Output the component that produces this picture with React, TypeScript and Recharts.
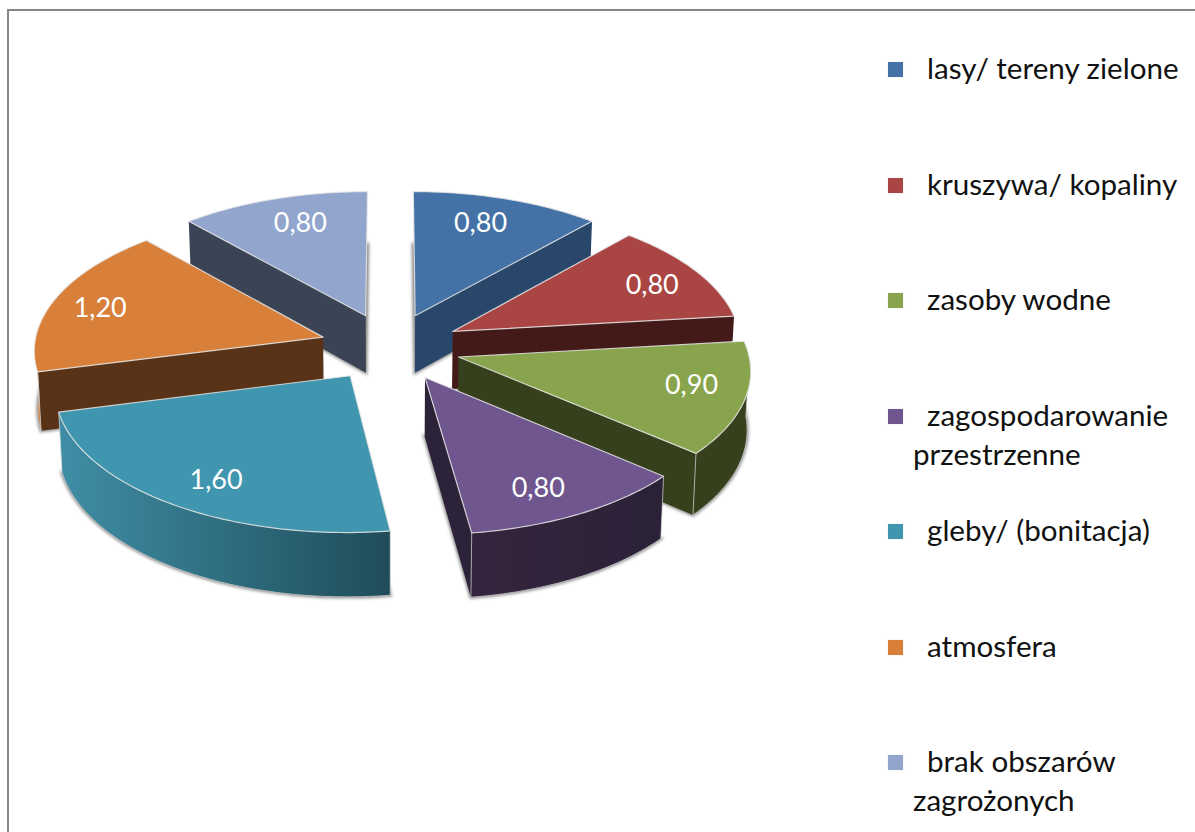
import { Legend, Pie, PieChart } from "recharts";

const categories = [
  "lasy/ tereny zielone",
  "kruszywa/ kopaliny",
  "zasoby wodne",
  "zagospodarowanie przestrzenne",
  "gleby/ (bonitacja)",
  "atmosfera",
  "brak obszarów zagrożonych",
];
const values = [0.8, 0.8, 0.9, 0.8, 1.6, 1.2, 0.8];

const topColors = ["#4472a6", "#a94542", "#88a44d", "#6f568f", "#3f96ae", "#d8803a", "#91a5cd"];
const sideColors = ["#28476a", "#431a18", "#36401c", "#2c2239", "#2a5f6e", "#583317", "#3b4454"];
const arcLeftColors = ["#28476a", "#431a18", "#36401c", "#35243d", "#3f8ea6", "#d07c38", "#3b4454"];
const arcRightColors = ["#28476a", "#431a18", "#36401c", "#2b2238", "#1f4c59", "#c97433", "#3b4454"];

// painter's order: back slices first, front slices last
const drawOrder = [0, 6, 1, 5, 2, 4, 3];

// small turn and radius of each value label from the middle of its slice
const labelTurns = [1.8, -0.7, 2.8, -1.7, 1.4, 0.9, -1.8];
const labelRadii = [1.03, 1.053, 1.052, 1.042, 1.042, 1.07, 1.03];

const CX = 390.4;
const CY = 347;
const RADIUS = 289;
const TILT = 0.4813;
const PERSPECTIVE = 0.0814;
const DEPTH = 58;
const EXPLODE = 0.245;
const RAD = Math.PI / 180;

const tableData = categories.map((name, i) => ({ name, value: values[i], order: i }));

function project(u: number, w: number, bottom = false): [number, number] {
  const s = 1 / (1 - PERSPECTIVE * w);
  let x = u * RADIUS * s;
  let y = w * RADIUS * TILT * s;
  if (bottom) {
    x *= 0.99;
    y += DEPTH * s;
  }
  return [CX + x, CY + y];
}

const toPath = (pts: [number, number][], close = true) =>
  pts.map((p, i) => `${i ? "L" : "M"}${p[0].toFixed(2)} ${p[1].toFixed(2)}`).join("") + (close ? "Z" : "");

function Slice(props: any) {
  const { startAngle, endAngle, midAngle } = props;
  const order = props.order ?? props.payload?.order;
  const ex = EXPLODE * Math.cos(midAngle * RAD);
  const ew = -EXPLODE * Math.sin(midAngle * RAD);

  const at = (deg: number, bottom = false) =>
    project(ex + Math.cos(deg * RAD), ew - Math.sin(deg * RAD), bottom);
  const apexTop = project(ex, ew);
  const apexBottom = project(ex, ew, true);

  const arcAngles: number[] = [];
  const steps = Math.ceil(Math.abs(startAngle - endAngle));
  for (let i = 0; i <= steps; i++) arcAngles.push(startAngle + ((endAngle - startAngle) * i) / steps);

  // arc wall: only the part turned to the viewer
  const frontAngles = arcAngles.filter((a) => Math.sin(a * RAD) <= 0);
  const topArc = arcAngles.map((a) => at(a));
  const bottomArc = arcAngles.map((a) => at(a, true));
  const frontTop = frontAngles.map((a) => at(a));
  const frontBottom = frontAngles.map((a) => at(a, true));

  const showStartWall = Math.cos(startAngle * RAD) < 0;
  const showEndWall = Math.cos(endAngle * RAD) > 0;
  const gradientId = `arc-side-${order}`;

  const labelAngle = (midAngle + labelTurns[order]) * RAD;
  const [lx, ly] = project(labelRadii[order] * Math.cos(labelAngle), -labelRadii[order] * Math.sin(labelAngle));

  return (
    <g>
      <defs>
        <linearGradient id={gradientId} x1="0" y1="0" x2="1" y2="0">
          <stop offset="0%" stopColor={arcLeftColors[order]} />
          <stop offset="100%" stopColor={arcRightColors[order]} />
        </linearGradient>
      </defs>
      <path
        d={toPath([apexBottom, ...bottomArc])}
        fill="#7a7a7a"
        stroke="#7a7a7a"
        strokeWidth={3.5}
        strokeOpacity={0.65}
        style={{ filter: "blur(1.4px)" }}
      />
      {showStartWall && (
        <path d={toPath([apexTop, at(startAngle), at(startAngle, true), apexBottom])} fill={sideColors[order]} />
      )}
      {showEndWall && (
        <path d={toPath([apexTop, at(endAngle), at(endAngle, true), apexBottom])} fill={sideColors[order]} />
      )}
      {frontAngles.length > 1 && (
        <g>
          <path d={toPath([...frontTop, ...[...frontBottom].reverse()])} fill={`url(#${gradientId})`} />
          <path d={toPath(frontBottom, false)} fill="none" stroke="#c8c8c8" strokeWidth={1} strokeOpacity={0.8} />
          <path
            d={toPath([frontTop[0], frontBottom[0]], false)}
            stroke="#d8d8d8"
            strokeWidth={1}
            strokeOpacity={0.7}
          />
          <path
            d={toPath([frontTop[frontTop.length - 1], frontBottom[frontBottom.length - 1]], false)}
            stroke="#d8d8d8"
            strokeWidth={1}
            strokeOpacity={0.7}
          />
        </g>
      )}
      <path
        d={toPath([apexTop, ...topArc])}
        fill={topColors[order]}
        stroke="#e6e6e6"
        strokeWidth={1.2}
        strokeOpacity={0.85}
        strokeLinejoin="round"
      />
      <text
        x={lx}
        y={ly}
        fill="#fff"
        fontFamily="Lato, sans-serif"
        fontSize={27}
        textAnchor="middle"
        dominantBaseline="central"
      >
        {values[order].toFixed(2).replace(".", ",")}
      </text>
    </g>
  );
}

function LegendList() {
  return (
    <div style={{ position: "relative", width: 1195, height: 832 }}>
      {categories.map((name, i) => (
        <div key={name}>
          <div
            style={{
              position: "absolute",
              left: 888,
              top: 62 + 115.5 * i,
              width: 15,
              height: 15,
              background: topColors[i],
              boxShadow: "0 0 2px #e8e8e8",
            }}
          />
          <div
            style={{
              position: "absolute",
              left: 913,
              top: 48 + 115.5 * i,
              width: 282,
              textIndent: 14,
              fontFamily: "Lato, sans-serif",
              fontSize: 29.6,
              lineHeight: "39px",
              color: "#111",
            }}
          >
            {name}
          </div>
        </div>
      ))}
    </div>
  );
}

export default function App() {
  return (
    <div style={{ position: "absolute", left: 0, top: 0, width: 1195, height: 832, overflow: "hidden", background: "#fff" }}>
      <div
        style={{
          position: "absolute",
          left: 7,
          top: 9,
          right: 0,
          bottom: 0,
          borderLeft: "2px solid #868686",
          borderTop: "2px solid #868686",
        }}
      />
      <div style={{ position: "absolute", left: 0, top: 0 }}>
        <PieChart width={1195} height={832} margin={{ top: 0, right: 0, bottom: 0, left: 0 }}>
          {drawOrder.map((pass) => {
            const renderSlice = (p: any) => ((p.order ?? p.payload?.order) === pass ? <Slice {...p} /> : <g />);
            return (
              <Pie
                key={pass}
                data={tableData}
                dataKey="value"
                nameKey="name"
                cx={CX}
                cy={CY}
                outerRadius={RADIUS}
                startAngle={90}
                endAngle={-270}
                stroke="none"
                legendType="none"
                isAnimationActive={false}
                shape={renderSlice}
                inactiveShape={renderSlice}
              />
            );
          })}
          <Legend
            content={LegendList}
            wrapperStyle={{ position: "absolute", left: 0, top: 0, width: 1195, height: 832 }}
          />
        </PieChart>
      </div>
    </div>
  );
}
